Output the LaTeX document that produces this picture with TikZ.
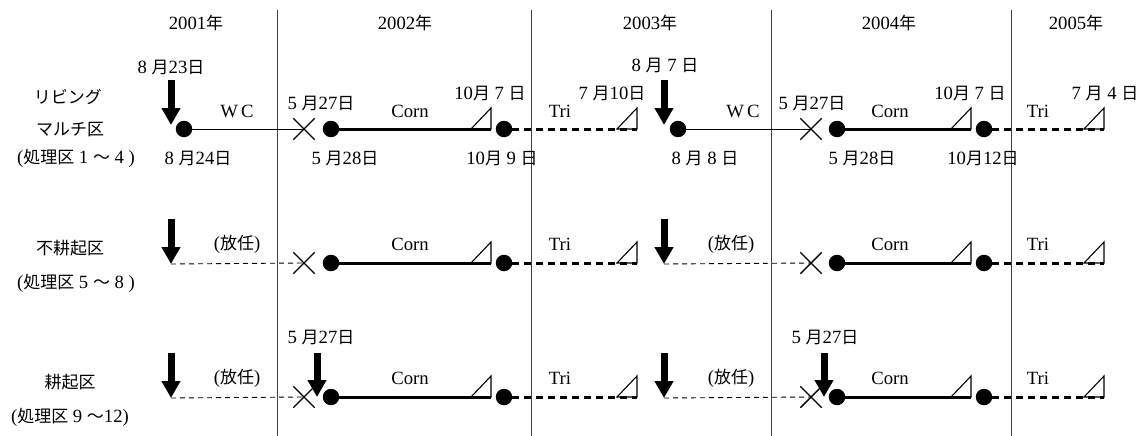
\documentclass[tikz,border=0pt]{standalone}
\usepackage{fontspec}
\setmainfont{Liberation Serif}[Scale=1.1]
\newfontfamily\jp{Noto Sans CJK JP}
\usetikzlibrary{arrows.meta,shapes.misc}
\newcommand\J[1]{{\jp #1}}
\begin{document}
\begin{tikzpicture}[x=1pt,y=-1pt,
  lab/.style={inner sep=0pt, font=\fontsize{17}{20}\selectfont},
  dot/.style={circle, fill, inner sep=0pt, minimum size=16.5pt},
  cut/.style={cross out, draw, inner sep=0pt, minimum size=20pt, line width=1.4pt},
  sep/.style={draw=black!75, line width=0.9pt},
  thinline/.style={line width=0.9pt},
  heavy/.style={line width=3pt},
  heavydash/.style={line width=3pt, dash pattern=on 7pt off 5pt},
  lightdash/.style={line width=0.9pt, dash pattern=on 5pt off 4pt},
  till/.style={-{Triangle[width=18pt,length=17pt]}, line width=7pt},
  harvest/.style={line width=1.1pt, line join=miter}
]
\useasboundingbox (0,0) rectangle (1146,436);

% year separators
\foreach \i/\xx in {1/277, 2/531, 3/771, 4/1011} {
  \coordinate (s\i t) at (\xx,10);
  \coordinate (s\i b) at (\xx,436);
  \draw[sep] (s\i t) -- (s\i b);
}

% year headings
\node[lab] (y1) at (196,23) {2001\J{年}};
\node[lab] (y2) at (405,23) {2002\J{年}};
\node[lab] (y3) at (650,23) {2003\J{年}};
\node[lab] (y4) at (889,23) {2004\J{年}};
\node[lab] (y5) at (1076,23) {2005\J{年}};

% row titles
\node[lab] (t1a) at (68,97) {\J{リビング}};
\node[lab] (t1b) at (70,130) {\J{マルチ区}};
\node[lab] (t1c) at (76,158) {(\J{処理区} 1 \J{～} 4 )};
\node[lab] (t2a) at (70,248) {\J{不耕起区}};
\node[lab] (t2b) at (76,283) {(\J{処理区} 5 \J{～} 8 )};
\node[lab] (t3a) at (70,382) {\J{耕起区}};
\node[lab] (t3b) at (70,417) {(\J{処理区} 9 \J{～}12)};

% ---- living mulch row ----
\node[dot] (r1d1) at (184,129) {};
\node[cut] (r1x1) at (304,129) {};
\node[dot] (r1d2) at (331,129) {};
\coordinate (r1h1) at (491,129);
\node[dot] (r1d3) at (504,129) {};
\coordinate (r1h2) at (637,129);
\node[dot] (r1d4) at (678,129) {};
\node[cut] (r1x2) at (811,129) {};
\node[dot] (r1d5) at (837,129) {};
\coordinate (r1h3) at (971,129);
\node[dot] (r1d6) at (984,129) {};
\coordinate (r1h4) at (1104,129);

\draw[thinline] (r1d1) -- (r1x1.center);
\draw[heavy] (r1d2) -- (r1h1);
\draw[heavydash] (r1d3) -- (r1h2);
\draw[thinline] (r1d4) -- (r1x2.center);
\draw[heavy] (r1d5) -- (r1h3);
\draw[heavydash] (r1d6) -- (r1h4);
\foreach \h in {r1h1,r1h2,r1h3,r1h4}
  \draw[harvest] (\h) -- ++(-20,0) -- ++(20,-21) -- cycle;

\coordinate (r1a1) at (171,80);  \coordinate (r1e1) at (171,125);
\coordinate (r1a2) at (664,80);  \coordinate (r1e2) at (664,125);
\draw[till] (r1a1) -- (r1e1);
\draw[till] (r1a2) -- (r1e2);

\node[lab] (r1l1) at (171,67) {8 \J{月}23\J{日}};
\node[lab] (r1l2) at (237,111) {W\hspace{3pt}C};
\node[lab] (r1l3) at (321,103) {5 \J{月}27\J{日}};
\node[lab] (r1l4) at (410,111) {Corn};
\node[lab] (r1l5) at (490,93) {10\J{月} 7 \J{日}};
\node[lab] (r1l6) at (560,111) {Tri};
\node[lab] (r1l7) at (612,93) {7 \J{月}10\J{日}};
\node[lab] (r1l8) at (665,65) {8 \J{月} 7 \J{日}};
\node[lab] (r1l9) at (743,111) {W\hspace{3pt}C};
\node[lab] (r1l10) at (812,103) {5 \J{月}27\J{日}};
\node[lab] (r1l11) at (890,111) {Corn};
\node[lab] (r1l12) at (970,93) {10\J{月} 7 \J{日}};
\node[lab] (r1l13) at (1038,111) {Tri};
\node[lab] (r1l14) at (1105,93) {7 \J{月} 4 \J{日}};
\node[lab] (r1b1) at (198,158) {8 \J{月}24\J{日}};
\node[lab] (r1b2) at (345,158) {5 \J{月}28\J{日}};
\node[lab] (r1b3) at (502,158) {10\J{月} 9 \J{日}};
\node[lab] (r1b4) at (705,158) {8 \J{月} 8 \J{日}};
\node[lab] (r1b5) at (862,158) {5 \J{月}28\J{日}};
\node[lab] (r1b6) at (983,158) {10\J{月}12\J{日}};

% ---- no-till and tilled rows ----
\foreach \r/\y in {2/263, 3/397} {
  \coordinate (r\r a1) at (171,{\y-44}); \coordinate (r\r e1) at (171,{\y+1});
  \coordinate (r\r a2) at (664,{\y-44}); \coordinate (r\r e2) at (664,{\y+1});
  \node[cut] (r\r x1) at (304,\y) {};
  \node[dot] (r\r d1) at (331,\y) {};
  \coordinate (r\r h1) at (491,\y);
  \node[dot] (r\r d2) at (504,\y) {};
  \coordinate (r\r h2) at (637,\y);
  \node[cut] (r\r x2) at (811,\y) {};
  \node[dot] (r\r d3) at (837,\y) {};
  \coordinate (r\r h3) at (971,\y);
  \node[dot] (r\r d4) at (984,\y) {};
  \coordinate (r\r h4) at (1104,\y);

  \draw[lightdash] (r\r e1) -- (r\r x1.center);
  \draw[heavy] (r\r d1) -- (r\r h1);
  \draw[heavydash] (r\r d2) -- (r\r h2);
  \draw[lightdash] (r\r e2) -- (r\r x2.center);
  \draw[heavy] (r\r d3) -- (r\r h3);
  \draw[heavydash] (r\r d4) -- (r\r h4);
  \foreach \h in {1,2,3,4}
    \draw[harvest] (r\r h\h) -- ++(-20,0) -- ++(20,-21) -- cycle;
  \draw[till] (r\r a1) -- (r\r e1);
  \draw[till] (r\r a2) -- (r\r e2);

  \node[lab] (r\r l1) at (237,{\y-19}) {(\J{放任})};
  \node[lab] (r\r l2) at (410,{\y-19}) {Corn};
  \node[lab] (r\r l3) at (560,{\y-19}) {Tri};
  \node[lab] (r\r l4) at (731,{\y-19}) {(\J{放任})};
  \node[lab] (r\r l5) at (890,{\y-19}) {Corn};
  \node[lab] (r\r l6) at (1038,{\y-19}) {Tri};
}

% spring tillage in the tilled row
\coordinate (r3a3) at (317,353); \coordinate (r3e3) at (317,397);
\coordinate (r3a4) at (824,353); \coordinate (r3e4) at (824,397);
\draw[till] (r3a3) -- (r3e3);
\draw[till] (r3a4) -- (r3e4);
\node[lab] (r3l7) at (321,337) {5 \J{月}27\J{日}};
\node[lab] (r3l8) at (825,337) {5 \J{月}27\J{日}};
\end{tikzpicture}
\end{document}
